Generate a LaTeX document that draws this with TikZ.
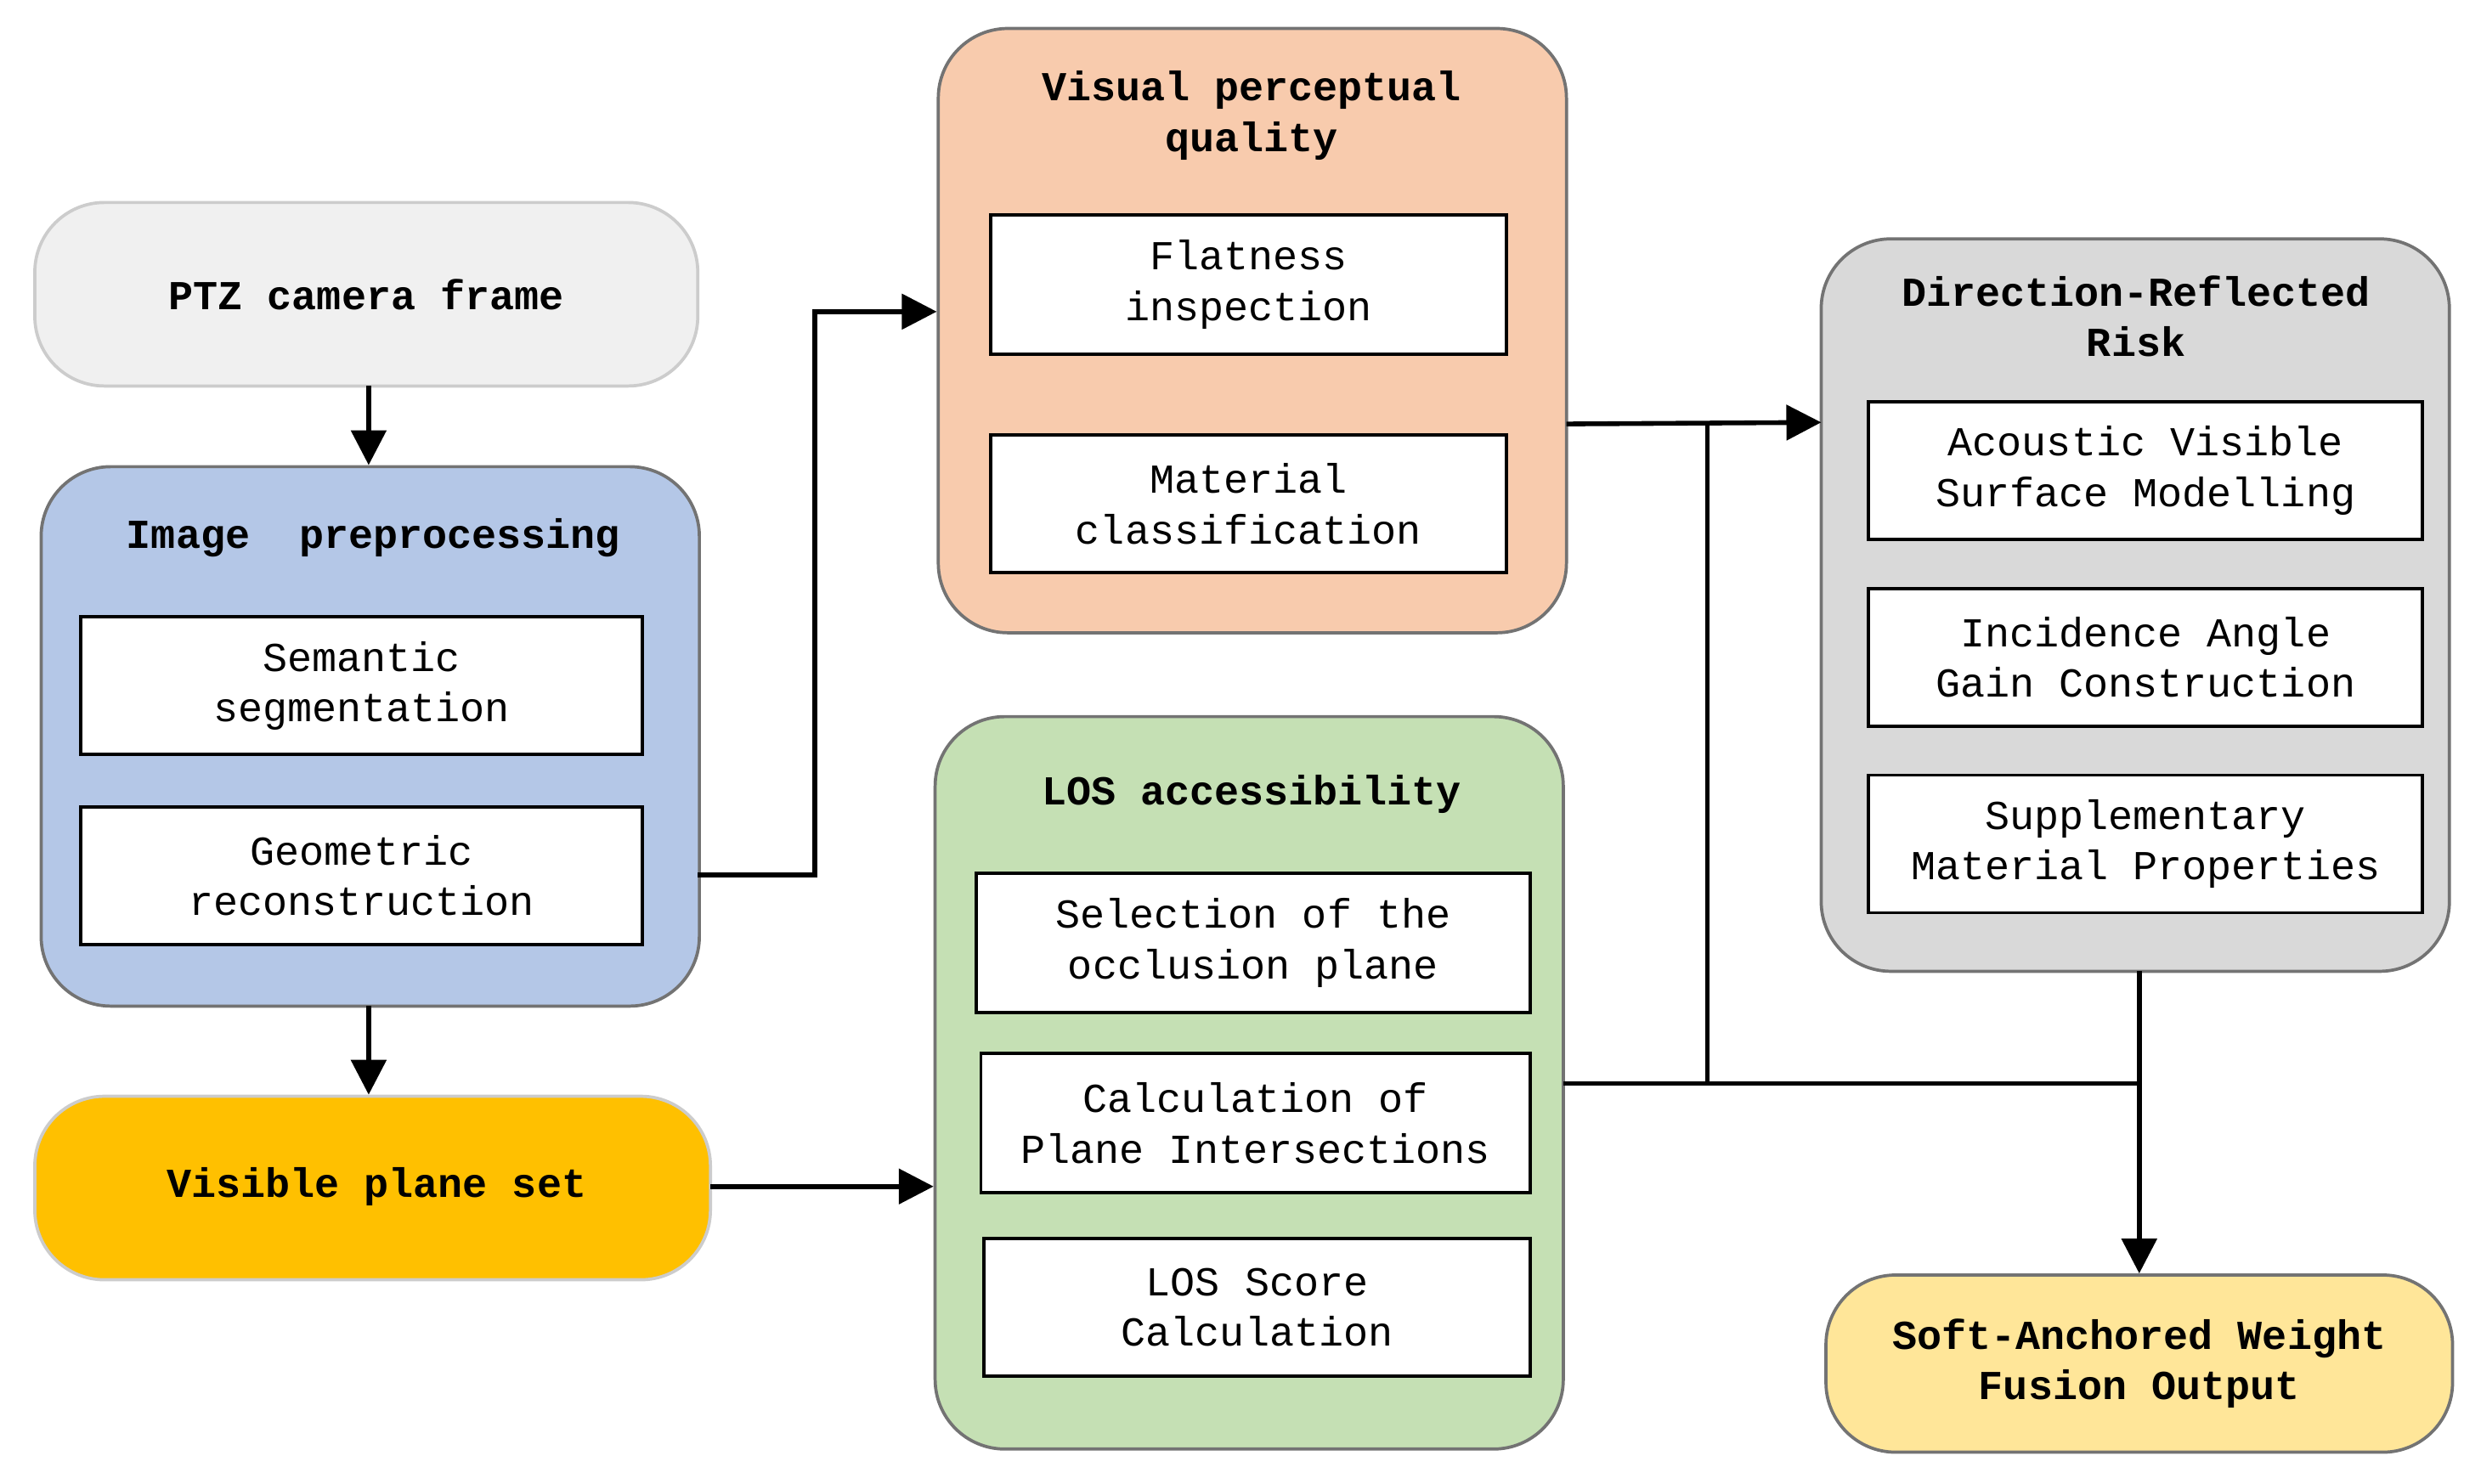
\documentclass[tikz,border=0pt]{standalone}
\usepackage{fontspec}
\setmainfont{Liberation Mono}
\usetikzlibrary{arrows.meta}
\begin{document}
\begin{tikzpicture}[x=0.5pt,y=-0.5pt,
  grp/.style={draw=black!55,line width=1pt,rounded corners=22pt},
  inner/.style={draw=black,fill=white,line width=1pt},
  ttl/.style={font=\fontsize{13}{16}\selectfont\bfseries,align=center},
  txt/.style={font=\fontsize{13}{16}\selectfont,align=center},
  conn/.style={line width=1.5pt},
  arr/.style={line width=1.5pt,-{Triangle[length=11pt,width=11pt]}}]
\useasboundingbox (0,0) rectangle (1568,937.6);
% boxes
\draw[grp,fill=black!6,draw=black!20] (22,128) rectangle (441,244);
\node[ttl] (ptz) at (231.5,186) {PTZ camera frame};
\draw[grp,fill=blue!25!gray!40,fill={rgb,255:red,180;green,199;blue,231}] (26,295) rectangle (442,636);
\coordinate (ipT) at (234,295); \coordinate (ipB) at (234,636);
\node[ttl] at (236,340) {Image \ preprocessing};
\draw[inner] (51,390) rectangle (406,477); \node[txt] at (228.5,433.5) {Semantic\\segmentation};
\draw[inner] (51,510) rectangle (406,597); \node[txt] at (228.5,553.5) {Geometric\\reconstruction};
\coordinate (geo) at (441,553);
\draw[grp,fill={rgb,255:red,255;green,192;blue,0},draw=black!20] (22,693) rectangle (449,809);
\node[ttl] (vps) at (238,750) {Visible plane set};
\draw[grp,fill={rgb,255:red,248;green,203;blue,173}] (593,18) rectangle (990,400);
\node[ttl] at (791,73) {Visual perceptual\\quality};
\draw[inner] (626,136) rectangle (952,224); \node[txt] at (789,180) {Flatness\\inspection};
\draw[inner] (626,275) rectangle (952,362); \node[txt] at (789,318.5) {Material\\classification};
\draw[grp,fill={rgb,255:red,197;green,224;blue,180}] (591,453) rectangle (988,916);
\node[ttl] at (791,502) {LOS accessibility};
\draw[inner] (617,552) rectangle (967,640); \node[txt] at (792,596) {Selection of the\\occlusion plane};
\draw[inner] (620,666) rectangle (967,754); \node[txt] at (793.5,710) {Calculation of\\Plane Intersections};
\draw[inner] (622,783) rectangle (967,870); \node[txt] at (794.5,826.5) {LOS Score\\Calculation};
\draw[grp,fill={rgb,255:red,217;green,217;blue,217}] (1151,151) rectangle (1548,614);
\node[ttl] at (1350,200) {Direction-Reflected\\Risk};
\draw[inner] (1181,254) rectangle (1531,341); \node[txt] at (1356,297.5) {Acoustic Visible\\Surface Modelling};
\draw[inner] (1181,372) rectangle (1531,459); \node[txt] at (1356,415.5) {Incidence Angle\\Gain Construction};
\draw[inner] (1181,490) rectangle (1531,577); \node[txt] at (1356,533.5) {Supplementary\\Material Properties};
\draw[grp,fill={rgb,255:red,255;green,230;blue,153}] (1154,806) rectangle (1550,918);
\node[ttl] at (1352,862) {Soft-Anchored Weight\\Fusion Output};
% connectors
\coordinate (a1) at (233,244); \coordinate (a2) at (233,294);
\draw[arr] (a1) -- (a2);
\coordinate (b1) at (233,636); \coordinate (b2) at (233,692);
\draw[arr] (b1) -- (b2);
\coordinate (vpin) at (592,197);
\draw[arr] (geo) -- (515,553) -- (515,197) -- (vpin);
\coordinate (vsR) at (449,750); \coordinate (losL) at (590,750);
\draw[arr] (vsR) -- (losL);
\coordinate (vpR) at (990,268); \coordinate (drL) at (1151,267);
\draw[arr] (vpR) -- (drL);
\coordinate (losR) at (988,685); \coordinate (j) at (1352,685);
\coordinate (sT) at (1352,805); \coordinate (drB) at (1352,614);
\draw[conn] (losR) -- (j);
\draw[conn] (1079,685) -- (1079,267);
\draw[conn] (drB) -- (j);
\draw[arr] (j) -- (sT);
\end{tikzpicture}
\end{document}
